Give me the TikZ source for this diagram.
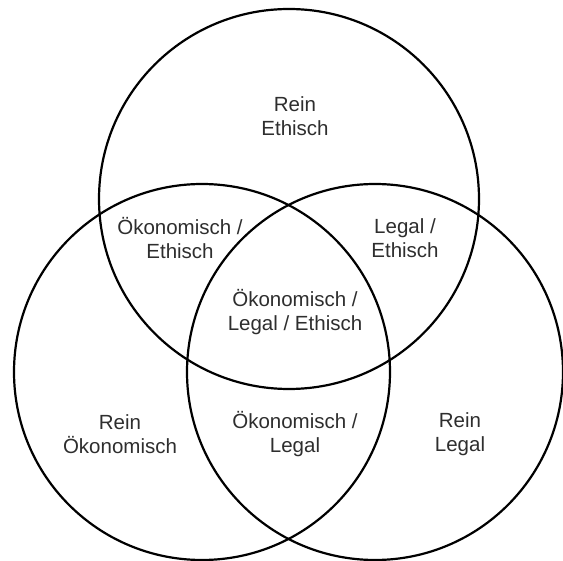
\documentclass[tikz,border=0pt]{standalone}
\usepackage{fontspec}
\setmainfont{Liberation Sans}
\begin{document}
\begin{tikzpicture}[x=1pt,y=-1pt,
  ring/.style={draw=black,line width=2.2pt},
  lbl/.style={align=center,font=\fontsize{20.5}{24.5}\selectfont,text=black!82}]
\useasboundingbox (0,0) rectangle (563,561);
\node[ring,circle,minimum size=380pt,inner sep=0pt] (top) at (289,199) {};
\node[ring,circle,minimum size=376pt,inner sep=0pt] (left) at (202,372) {};
\node[ring,circle,minimum size=376pt,inner sep=0pt] (right) at (375,372) {};
\node[lbl] (re) at (295,116) {Rein\\Ethisch};
\node[lbl] (oe) at (180,238) {Ökonomisch /\\Ethisch};
\node[lbl] (le) at (405,238) {Legal /\\Ethisch};
\node[lbl] (ole) at (295,312) {Ökonomisch /\\Legal / Ethisch};
\node[lbl] (ro) at (120,434) {Rein\\Ökonomisch};
\node[lbl] (ol) at (295,434) {Ökonomisch /\\Legal};
\node[lbl] (rl) at (460,434) {Rein\\Legal};
\end{tikzpicture}
\end{document}
